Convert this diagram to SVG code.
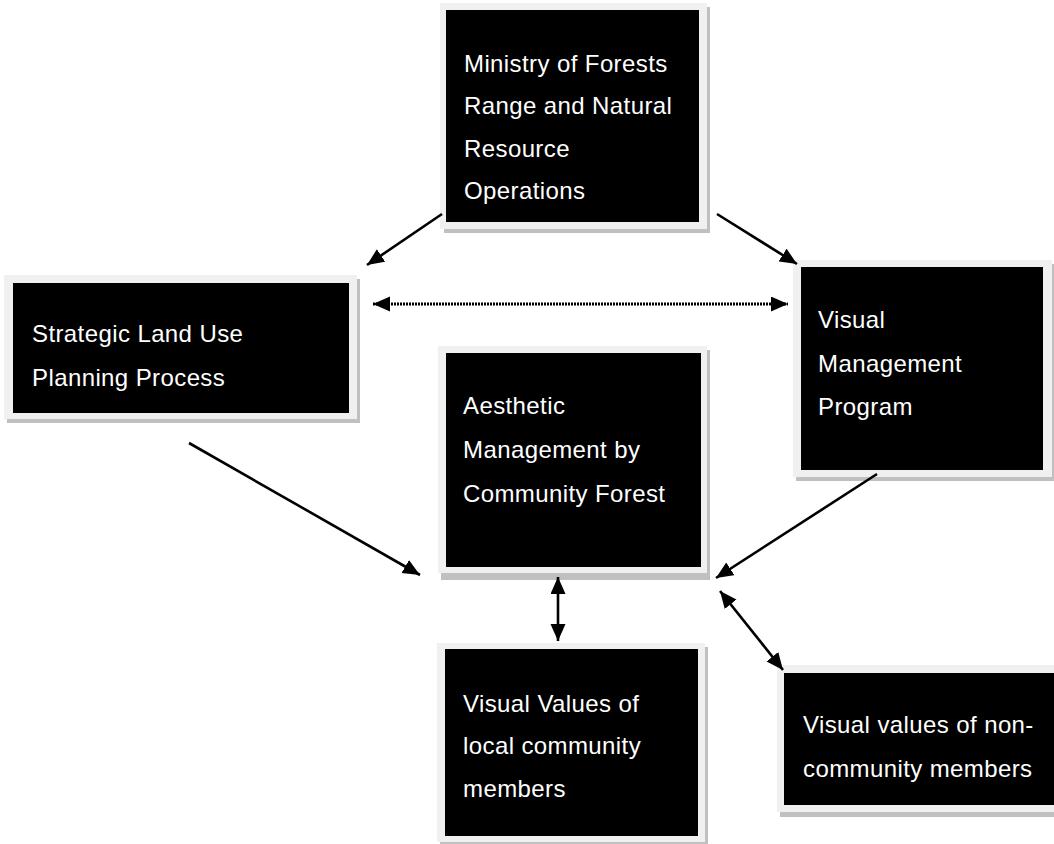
<svg xmlns="http://www.w3.org/2000/svg" width="1054" height="844" viewBox="0 0 1054 844">
<style>
.sh{fill:#c0c0c0}
.fr{fill:#f0f0f0}
.bx{fill:#000}
.t{font-family:"Liberation Sans",Arial,sans-serif;font-size:24px;letter-spacing:0.4px;fill:#fff}
.c{stroke:#000;stroke-width:2.6;fill:none}
.d{stroke:#000;stroke-width:3;fill:none;stroke-dasharray:2 1}
</style>
<defs>
<marker id="ah" markerUnits="userSpaceOnUse" markerWidth="18" markerHeight="16" refX="17" refY="7.5" orient="auto-start-reverse" viewBox="0 0 18 16">
<path d="M0,0 L17,7.5 L0,15 z" fill="#000"/>
</marker>
</defs>
<rect width="1054" height="844" fill="#fff"/>
<g id="ministry">
<rect class="sh" x="444" y="7" width="266" height="226"/>
<rect class="fr" x="440" y="3" width="267" height="226"/>
<rect class="bx" x="446" y="10" width="253" height="212"/>
<text class="t" x="464" y="72">Ministry of Forests</text>
<text class="t" x="464" y="114">Range and Natural</text>
<text class="t" x="464" y="157">Resource</text>
<text class="t" x="464" y="199">Operations</text>
</g>
<g id="strategic">
<rect class="sh" x="7" y="279" width="353" height="144"/>
<rect class="fr" x="4" y="275" width="353" height="144"/>
<rect class="bx" x="13" y="283" width="336" height="130"/>
<text class="t" x="32" y="342">Strategic Land Use</text>
<text class="t" x="32" y="386">Planning Process</text>
</g>
<g id="visual-program">
<rect class="sh" x="796" y="264" width="260" height="217"/>
<rect class="fr" x="793" y="260" width="259" height="217"/>
<rect class="bx" x="801" y="267" width="242" height="203"/>
<text class="t" x="818" y="328">Visual</text>
<text class="t" x="818" y="372">Management</text>
<text class="t" x="818" y="415">Program</text>
</g>
<g id="aesthetic">
<rect class="sh" x="441" y="350" width="269" height="230"/>
<rect class="fr" x="438" y="346" width="269" height="227"/>
<rect class="bx" x="446" y="353" width="255" height="214"/>
<text class="t" x="463" y="414">Aesthetic</text>
<text class="t" x="463" y="458">Management by</text>
<text class="t" x="463" y="502">Community Forest</text>
</g>
<g id="local-values">
<rect class="sh" x="440" y="647" width="268" height="199"/>
<rect class="fr" x="437" y="643" width="268" height="199"/>
<rect class="bx" x="445" y="649" width="253" height="187"/>
<text class="t" x="463" y="712">Visual Values of</text>
<text class="t" x="463" y="754">local community</text>
<text class="t" x="463" y="797">members</text>
</g>
<g id="nonlocal-values">
<rect class="sh" x="780" y="669" width="280" height="148"/>
<rect class="fr" x="777" y="665" width="280" height="147"/>
<rect class="bx" x="784" y="673" width="275" height="132"/>
<text class="t" x="803" y="733">Visual values of non-</text>
<text class="t" x="803" y="777">community members</text>
</g>
<g id="connectors">
<line class="c" x1="442" y1="214" x2="367" y2="265" marker-end="url(#ah)"/>
<line class="c" x1="717" y1="214" x2="797" y2="264" marker-end="url(#ah)"/>
<line class="d" x1="373" y1="304" x2="788" y2="304" marker-start="url(#ah)" marker-end="url(#ah)"/>
<line class="c" x1="189" y1="443" x2="420" y2="575" marker-end="url(#ah)"/>
<line class="c" x1="877" y1="474" x2="716" y2="578" marker-end="url(#ah)"/>
<line class="c" x1="558" y1="577" x2="558" y2="641" marker-start="url(#ah)" marker-end="url(#ah)"/>
<line class="c" x1="720" y1="591" x2="783" y2="670" marker-start="url(#ah)" marker-end="url(#ah)"/>
</g>
</svg>
